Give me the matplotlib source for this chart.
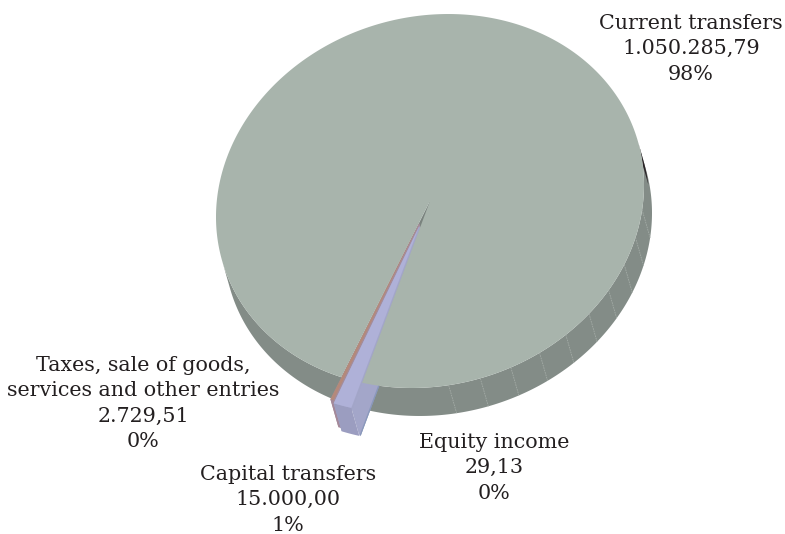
import numpy as np
import matplotlib.pyplot as plt
from matplotlib.patches import Polygon

# slices in drawing order (clockwise from the small ones)
cats = ['Equity income', 'Capital transfers',
        'Taxes, sale of goods,\nservices and other entries', 'Current transfers']
vals = [29.13, 15000.00, 2729.51, 1050285.79]
explode = [0.14, 0.14, 0.125, 0.0]
top_cols = ['#8fa0c8', '#afb1d8', '#b4897a', '#a8b4ac']
side_cols = ['#7d8cb0', '#9b9dc0', '#a4899a', '#838c87']
cut_cols = ['#8a98bb', '#a3a6c9', '#a58c99', '#7a837e']

# label anchors (x centre, first baseline)
lab_pos = {'Current transfers': (691, 29),
           'Taxes, sale of goods,\nservices and other entries': (143, 371),
           'Capital transfers': (288, 480),
           'Equity income': (494, 448)}

def fmt(v):
    s = f'{v:,.2f}'
    return s.replace(',', 'X').replace('.', ',').replace('X', '.')

# projected pie geometry (pixels)
C = np.array([430.0, 201.0])
U = np.array([214.0, -16.0])
V = np.array([0.0, 186.3])
D = np.array([8.0, 28.0])
t_start = 108.5

def pt(t, off=(0, 0)):
    r = np.radians(t)
    return C + U * np.cos(r) + V * np.sin(r) + np.asarray(off)

def visible(t):
    r = np.radians(t)
    T = -U * np.sin(r) + V * np.cos(r)
    n = np.array([T[1], -T[0]])
    return n @ D > 0

fig = plt.figure(figsize=(7.85, 5.34), dpi=100)
ax = fig.add_axes([0, 0, 1, 1])
ax.set_xlim(0, 785)
ax.set_ylim(534, 0)
ax.axis('off')

total = sum(vals)
bounds = t_start + 360 * np.concatenate([[0], np.cumsum(vals) / total])

for n, i in enumerate([3, 0, 2, 1]):
    t0, t1 = bounds[i], bounds[i + 1]
    m = np.radians((t0 + t1) / 2)
    off = explode[i] * (U * np.cos(m) + V * np.sin(m))
    z = 1 if i == 3 else 1.6 + 0.05 * n
    # cut faces
    for tb in (t0, t1):
        q = [C + off, pt(tb, off), pt(tb, off) + D, C + off + D]
        ax.add_patch(Polygon(q, closed=True, fc=cut_cols[i], ec='none', zorder=z))
    # outer side, split into visible runs
    ts = np.linspace(t0, t1, max(int((t1 - t0) * 2), 3))
    runs, cur = [], []
    for t in ts:
        if visible(t):
            cur.append(t)
        elif cur:
            runs.append(cur)
            cur = []
    if cur:
        runs.append(cur)
    for run in runs:
        p = np.array([pt(t, off) for t in run])
        q = np.vstack([p, (p + D)[::-1]])
        ax.add_patch(Polygon(q, closed=True, fc=side_cols[i], ec='none', zorder=z + 0.01))
        if i == 3:
            # dark sliver at the right tangent
            dk = [t for t in run if 330 < (t % 360) < 354]
            if len(dk) > 1:
                p = np.array([pt(t) for t in dk])
                q = np.vstack([p, (p + D * 0.7)[::-1]])
                ax.add_patch(Polygon(q, closed=True, fc='#2b2428', ec='none', zorder=z + 0.2))
    # top face
    ts = np.linspace(t0, t1, max(int((t1 - t0) * 2), 3))
    top = [C + off] + [pt(t, off) for t in ts]
    ax.add_patch(Polygon(top, closed=True, fc=top_cols[i], ec='none',
                         zorder=2 if i == 3 else 4 + 0.1 * n))

# facet lines on the side
for t in np.arange(85, 0, -8.6):
    a = pt(t)
    ax.plot([a[0], a[0] + D[0]], [a[1], a[1] + D[1]], color='#a3aba6',
            lw=0.6, ls=(0, (2, 1)), zorder=1.5)

# labels
for name, v in zip(cats, vals):
    x, y = lab_pos[name]
    lines = name.split('\n') + [fmt(v), f'{v / total * 100:.0f}%']
    for k, s in enumerate(lines):
        ax.text(x, y + 25.3 * k, s, ha='center', va='baseline', fontsize=14.9,
                family='DejaVu Serif', color='#231f20', zorder=6)

fig.savefig('out.png', dpi=100)
